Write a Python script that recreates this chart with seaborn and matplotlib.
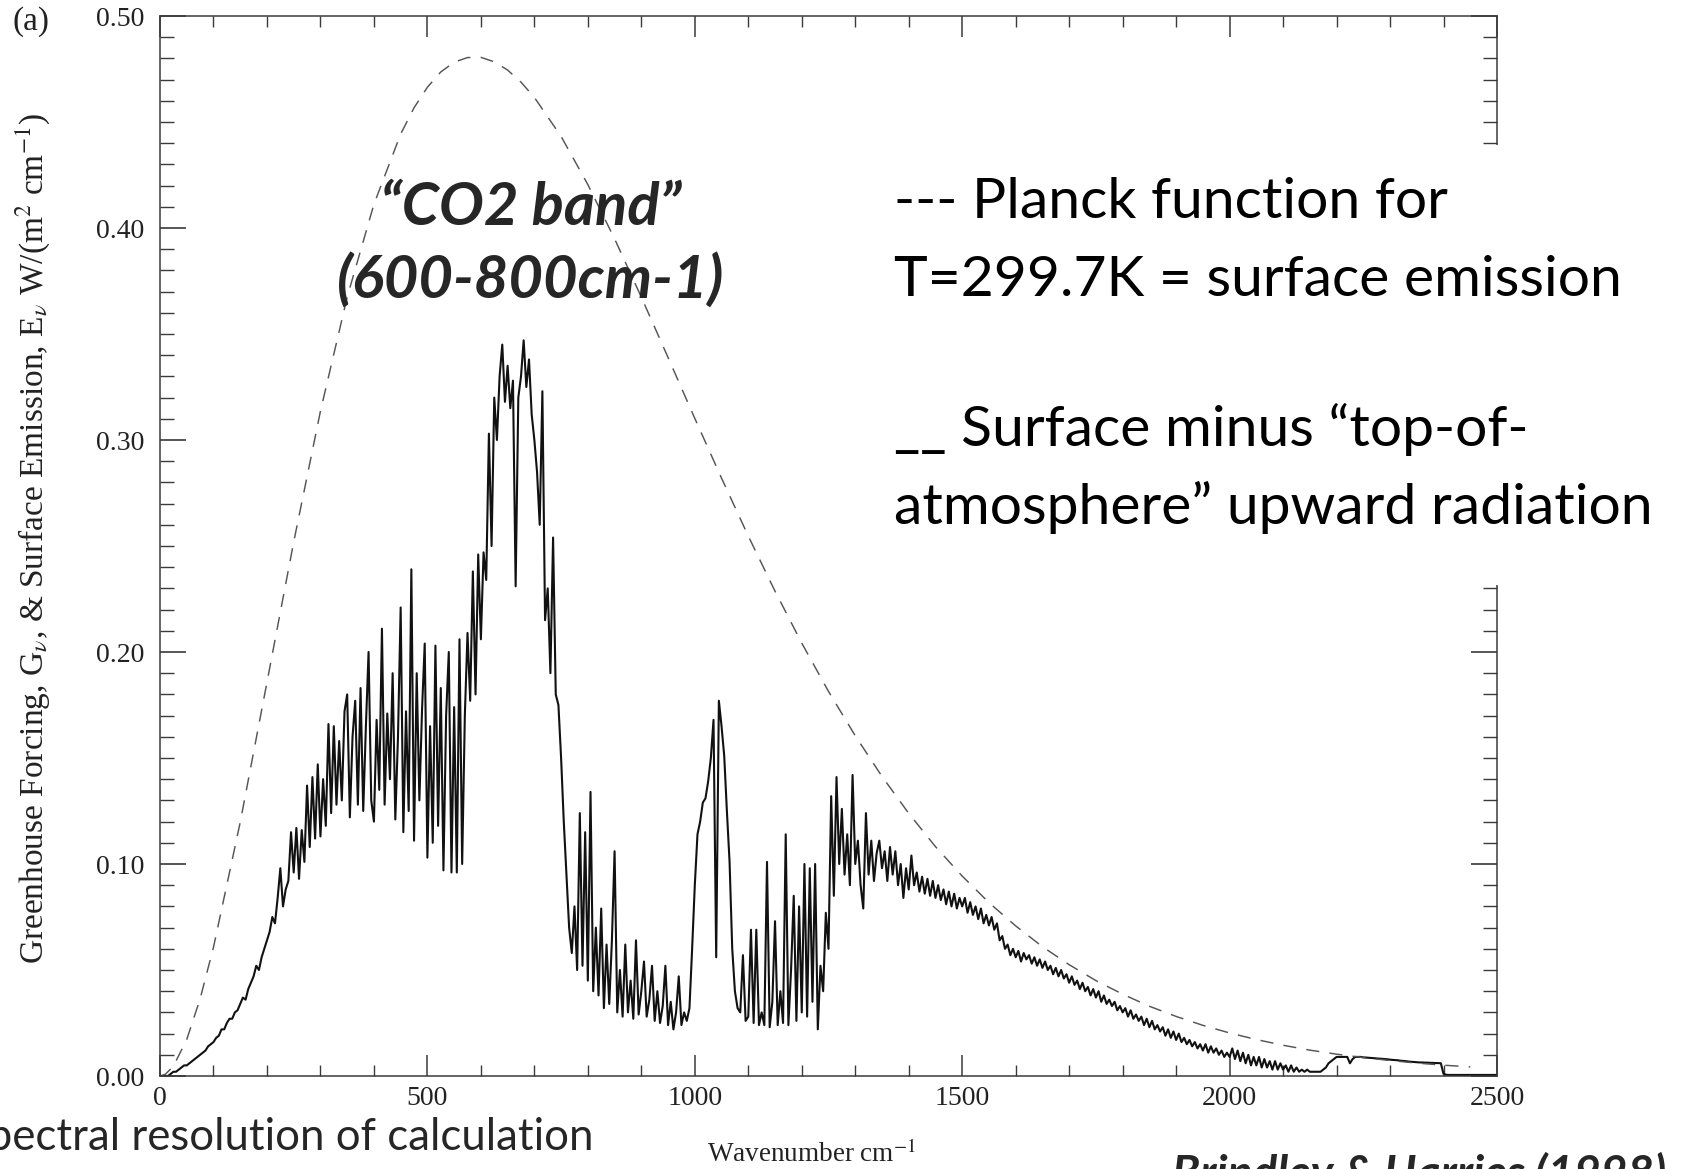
import numpy as np
import pandas as pd
import matplotlib
matplotlib.use("Agg")
import matplotlib.pyplot as plt
import seaborn as sns
from matplotlib.patches import Rectangle
from matplotlib.ticker import MultipleLocator, FormatStrFormatter

# ---------------------------------------------------------------------------
# Spectrum: surface emission minus top-of-atmosphere upward radiation,
# W/(m^2 cm^-1), sampled every 5 cm^-1 from 0 to 2500 cm^-1.
# ---------------------------------------------------------------------------
STEP = 5

far_ir = [  # 0-245
    0.000, 0.000, 0.000, 0.000, 0.001, 0.002, 0.002, 0.003, 0.004, 0.005,
    0.005, 0.006, 0.007, 0.008, 0.009, 0.010, 0.011, 0.012, 0.014, 0.015,
    0.016, 0.018, 0.019, 0.022, 0.022, 0.025, 0.027, 0.027, 0.030, 0.031,
    0.034, 0.037, 0.036, 0.041, 0.044, 0.047, 0.052, 0.050, 0.056, 0.060,
    0.064, 0.068, 0.075, 0.072, 0.084, 0.098, 0.080, 0.088, 0.092, 0.115,
]
h2o_rotation = [  # 250-595
    0.096, 0.117, 0.093, 0.116, 0.101, 0.137, 0.108, 0.141, 0.112, 0.147,
    0.113, 0.140, 0.118, 0.166, 0.124, 0.165, 0.128, 0.158, 0.130, 0.172,
    0.180, 0.122, 0.160, 0.177, 0.128, 0.183, 0.125, 0.165, 0.200, 0.130,
    0.120, 0.168, 0.135, 0.211, 0.128, 0.171, 0.140, 0.190, 0.121, 0.160,
    0.221, 0.115, 0.172, 0.125, 0.239, 0.111, 0.190, 0.130, 0.173, 0.204,
    0.103, 0.165, 0.110, 0.203, 0.118, 0.183, 0.097, 0.170, 0.200, 0.096,
    0.174, 0.096, 0.206, 0.100, 0.170, 0.209, 0.177, 0.238, 0.180, 0.246,
]
co2_band = [  # 600-775
    0.206, 0.247, 0.234, 0.303, 0.250, 0.320, 0.300, 0.330, 0.345, 0.318,
    0.335, 0.315, 0.328, 0.231, 0.320, 0.330, 0.347, 0.325, 0.338, 0.312,
    0.300, 0.285, 0.260, 0.323, 0.215, 0.230, 0.190, 0.254, 0.180, 0.175,
    0.150, 0.120, 0.095, 0.070, 0.058, 0.080,
]
window = [  # 780-995
    0.050, 0.124, 0.052, 0.115,
    0.045, 0.134, 0.040, 0.070, 0.038, 0.079, 0.032, 0.062, 0.034, 0.064,
    0.106, 0.030, 0.050, 0.028, 0.062, 0.030, 0.045, 0.027, 0.064, 0.029,
    0.040, 0.054, 0.028, 0.036, 0.052, 0.026, 0.040, 0.025, 0.033, 0.052,
    0.024, 0.035, 0.022, 0.030, 0.047, 0.024, 0.030, 0.026, 0.032, 0.060,
]
ozone = [  # 1000-1095
    0.090, 0.114, 0.120, 0.129, 0.131, 0.139, 0.150, 0.168, 0.056, 0.177,
    0.165, 0.151, 0.125, 0.101, 0.060, 0.040, 0.032, 0.030, 0.057, 0.026,
]
window2 = [  # 1100-1245
    0.028, 0.069, 0.025, 0.069, 0.024, 0.030, 0.024, 0.101, 0.023, 0.035,
    0.073, 0.024, 0.040, 0.025, 0.114, 0.024, 0.050, 0.085, 0.026, 0.080,
    0.030, 0.100, 0.028, 0.098, 0.035, 0.100, 0.022, 0.052, 0.040, 0.077,
]
h2o_bend = [  # 1250-1595
    0.060, 0.132, 0.085, 0.141, 0.100, 0.126, 0.095, 0.114, 0.090, 0.142,
    0.100, 0.111, 0.090, 0.079, 0.124, 0.095, 0.111, 0.092, 0.105, 0.111,
    0.098, 0.106, 0.092, 0.108, 0.095, 0.106, 0.090, 0.100, 0.084, 0.098,
    0.088, 0.104, 0.090, 0.096, 0.087, 0.094, 0.086, 0.093, 0.085, 0.092,
    0.084, 0.090, 0.083, 0.088, 0.081, 0.087, 0.080, 0.086, 0.079, 0.084,
    0.080, 0.084, 0.077, 0.082, 0.076, 0.080, 0.074, 0.079, 0.072, 0.076,
    0.071, 0.075, 0.069, 0.072, 0.064, 0.066, 0.060, 0.062, 0.057, 0.060,
]
tail = [  # 1600-2500
    0.056, 0.059, 0.054, 0.058, 0.055, 0.057, 0.053, 0.056, 0.052, 0.055,
    0.051, 0.054, 0.050, 0.052, 0.048, 0.051, 0.047, 0.050, 0.046, 0.048,
    0.044, 0.047, 0.043, 0.045, 0.041, 0.044, 0.040, 0.042, 0.038, 0.041,
    0.037, 0.040, 0.035, 0.038, 0.034, 0.036, 0.033, 0.035, 0.031, 0.033,
    0.030, 0.032, 0.028, 0.031, 0.027, 0.029, 0.026, 0.028, 0.024, 0.027,
    0.023, 0.026, 0.022, 0.024, 0.021, 0.023, 0.019, 0.022, 0.018, 0.021,
    0.017, 0.020, 0.016, 0.018, 0.015, 0.017, 0.014, 0.016, 0.013, 0.015,
    0.012, 0.015, 0.011, 0.014, 0.011, 0.013, 0.010, 0.012, 0.009, 0.011,
    0.009, 0.013, 0.008, 0.012, 0.007, 0.011, 0.006, 0.010, 0.005, 0.009,
    0.005, 0.009, 0.004, 0.008, 0.004, 0.007, 0.003, 0.007, 0.003, 0.006,
    0.003, 0.005, 0.002, 0.005, 0.002, 0.004, 0.002, 0.003, 0.002, 0.003,
    0.002, 0.002, 0.002, 0.002, 0.002, 0.003, 0.004, 0.006, 0.007, 0.008,
    0.009, 0.009, 0.009, 0.009, 0.009, 0.006, 0.008, 0.009, 0.009, 0.009,
    0.0088, 0.0087, 0.0086, 0.0085, 0.0084, 0.0083, 0.0082, 0.0081, 0.0080, 0.0079,
    0.0077, 0.0076, 0.0075, 0.0074, 0.0072, 0.0071, 0.0070, 0.0068, 0.0067, 0.0066,
    0.0065, 0.0064, 0.0064, 0.0063, 0.0063, 0.0062, 0.0062, 0.0061, 0.0061, 0.0060,
    0.0010, 0.0006, 0.0005, 0.0005, 0.0005, 0.0005, 0.0005, 0.0005, 0.0005, 0.0005,
    0.0005, 0.0005, 0.0005, 0.0005, 0.0005, 0.0005, 0.0005, 0.0005, 0.0005, 0.0005,
    0.0005,
]

# Planck surface emission (T = 299.7 K), W/(m^2 cm^-1)
planck_wn = [0, 10, 25, 50, 75, 100, 150, 200, 250, 300, 350, 400, 450, 475,
             500, 525, 550, 575, 600, 625, 650, 675, 700, 750, 800, 850, 900,
             950, 1000, 1050, 1100, 1150, 1200, 1250, 1300, 1350, 1400, 1450,
             1500, 1550, 1600, 1650, 1700, 1750, 1800, 1850, 1900, 1950, 2000,
             2050, 2100, 2150, 2200, 2250, 2300, 2350, 2400, 2450]
planck_val = [0.0, 0.0008, 0.0046, 0.0172, 0.0364, 0.0607, 0.1197, 0.1857,
              0.2519, 0.3136, 0.3674, 0.4112, 0.4443, 0.4567, 0.4664, 0.4736,
              0.4782, 0.4804, 0.4805, 0.4784, 0.4745, 0.4688, 0.4616, 0.4432,
              0.4205, 0.3949, 0.3674, 0.3389, 0.3102, 0.2820, 0.2547, 0.2287,
              0.2042, 0.1814, 0.1605, 0.1413, 0.1239, 0.1082, 0.0943, 0.0818,
              0.0708, 0.0610, 0.0525, 0.0450, 0.0386, 0.0329, 0.0281, 0.0239,
              0.0203, 0.0172, 0.0145, 0.0122, 0.0103, 0.0087, 0.0073, 0.0061,
              0.0051, 0.0043]

y_ticks = [0.0, 0.1, 0.2, 0.3, 0.4, 0.5]
x_ticks = [0, 500, 1000, 1500, 2000, 2500]

spectrum = far_ir + h2o_rotation + co2_band + window + ozone + window2 + h2o_bend + tail
spec_df = pd.DataFrame({"wavenumber": np.arange(len(spectrum)) * STEP,
                        "forcing": spectrum})
planck_df = pd.DataFrame({"wavenumber": planck_wn, "emission": planck_val})

# ---------------------------------------------------------------------------
sns.set_style("ticks")
plt.rcParams["font.family"] = ["Liberation Serif", "DejaVu Serif"]
plt.rcParams["mathtext.fontset"] = "stix"

W, H = 1706, 1169
fig = plt.figure(figsize=(W / 100, H / 100), dpi=100)
fig.patch.set_facecolor("white")
L, R, T, B = 160, 1497, 16, 1076
ax = fig.add_axes([L / W, 1 - B / H, (R - L) / W, (B - T) / H])

sns.lineplot(data=spec_df, x="wavenumber", y="forcing", ax=ax,
             color="#111111", linewidth=1.5, estimator=None, sort=False)
sns.lineplot(data=planck_df, x="wavenumber", y="emission", ax=ax,
             color="#555555", linewidth=1.05, estimator=None, sort=False)
ax.lines[-1].set_dashes((9, 7))

ax.set_xlim(0, 2500)
ax.set_ylim(0, 0.5)
ax.set_xticks(x_ticks)
ax.set_yticks(y_ticks)
ax.xaxis.set_minor_locator(MultipleLocator(100))
ax.yaxis.set_minor_locator(MultipleLocator(0.01))
ax.yaxis.set_major_formatter(FormatStrFormatter("%.2f"))
ax.set_xlabel("")
ax.set_ylabel("")

for s in ax.spines.values():
    s.set_visible(True)
    s.set_color("#3a3a3a")
    s.set_linewidth(1.1)

ax.tick_params(which="both", direction="in", top=True, right=True,
               color="#3a3a3a", labelcolor="#222222")
ax.tick_params(axis="y", which="major", length=19, width=1.2, pad=11, labelsize=20)
ax.tick_params(axis="y", which="minor", length=10, width=1.0)
ax.tick_params(axis="x", which="major", length=15, width=1.1, pad=7, labelsize=20)
ax.tick_params(axis="x", which="minor", length=8, width=1.0)

# panel tag and axis titles
fig.text(13 / W, 1 - 22 / H, "(a)", fontsize=24, va="center", ha="left", color="#222222")
fig.text(33 / W, 1 - 538 / H,
         r"Greenhouse Forcing, G$_{\nu}$, & Surface Emission, E$_{\nu}$ W/(m$^2$ cm$^{-1}$)",
         rotation=90, fontsize=24, ha="center", va="center", color="#222222")
fig.text(811 / W, 1 - 1154 / H, r"Wavenumber cm$^{-1}$", fontsize=19.5,
         ha="center", va="center", color="#222222")

# white panel behind the key text
fig.add_artist(Rectangle((885 / W, 1 - 585 / H), 1 - 885 / W, (585 - 145) / H,
                         transform=fig.transFigure, facecolor="white",
                         edgecolor="none", zorder=5))

sans = ["Lato", "DejaVu Sans"]
key_lines = [
    (218, "--- Planck function for"),
    (296, "T=299.7K = surface emission"),
    (446, "__ Surface minus \u201ctop-of-"),
    (524, "atmosphere\u201d upward radiation"),
]
for yb, txt in key_lines:
    fig.text(894 / W, 1 - yb / H, txt, family=sans, fontsize=41,
             ha="left", va="baseline", color="black", zorder=6)

fig.text(531 / W, 1 - 225 / H, "\u201cCO2 band\u201d", family=sans, fontsize=43,
         fontweight="bold", fontstyle="italic", ha="center", va="baseline", zorder=6)
fig.text(531 / W, 1 - 298 / H, "(600-800cm-1)", family=sans, fontsize=43,
         fontweight="bold", fontstyle="italic", ha="center", va="baseline", zorder=6)

fig.text(594 / W, 1 - 1150 / H, "Spectral resolution of calculation", family=sans,
         fontsize=31.5, ha="right", va="baseline", zorder=6)
fig.text(1666 / W, 1 - 1188 / H, "Brindley & Harries (1998)", family=sans,
         fontsize=33, fontweight="bold", fontstyle="italic", ha="right",
         va="baseline", zorder=6)

fig.savefig("out.png", dpi=100, facecolor="white")
